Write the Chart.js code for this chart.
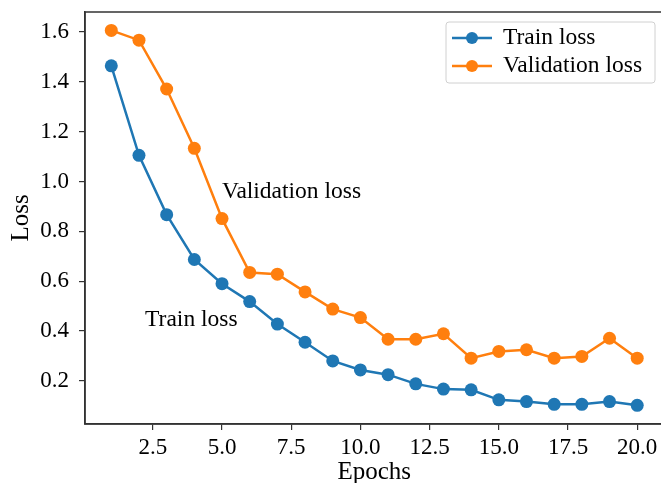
<!DOCTYPE html>
<html>
<head>
<meta charset="utf-8">
<script src="https://cdn.jsdelivr.net/npm/chart.js@4.4.1/dist/chart.umd.min.js"></script>
<style>
  html, body { margin: 0; padding: 0; background: #fff; overflow: hidden; }
  #wrap { width: 670px; height: 483px; }
</style>
</head>
<body>
<div id="wrap"><canvas id="lossChart"></canvas></div>
<script>
// Dados
const epochs = [1, 2, 3, 4, 5, 6, 7, 8, 9, 10, 11, 12, 13, 14, 15, 16, 17, 18, 19, 20];
const trainLoss = [1.464, 1.105, 0.867, 0.687, 0.590, 0.518, 0.428, 0.355, 0.280, 0.244,
                   0.225, 0.188, 0.167, 0.164, 0.124, 0.117, 0.106, 0.106, 0.117, 0.102];
const valLoss = [1.606, 1.567, 1.371, 1.133, 0.851, 0.635, 0.628, 0.557, 0.488, 0.454,
                 0.367, 0.367, 0.389, 0.291, 0.318, 0.325, 0.291, 0.298, 0.371, 0.291];
const xTicks = [2.5, 5.0, 7.5, 10.0, 12.5, 15.0, 17.5, 20.0];
const yTicks = [0.2, 0.4, 0.6, 0.8, 1.0, 1.2, 1.4, 1.6];

const FONT = "'Liberation Serif', 'Times New Roman', serif";
const BLUE = "#1f77b4";
const ORANGE = "#ff7f0e";

const toPoints = (ys) => epochs.map((x, i) => ({ x: x, y: ys[i] }));

// Moldura + legenda + anotações
const extras = {
  id: "extras",
  afterDraw(chart) {
    const ctx = chart.ctx;
    const a = chart.chartArea;
    const xs = chart.scales.x, ys = chart.scales.y;
    ctx.save();
    ctx.strokeStyle = "#333";
    ctx.lineWidth = 1.5;
    ctx.strokeRect(a.left, a.top, a.right - a.left, a.bottom - a.top);

    // anotações
    ctx.fillStyle = "#000";
    ctx.font = "23.5px " + FONT;
    ctx.textBaseline = "middle";
    ctx.textAlign = "left";
    ctx.fillText("Validation loss", xs.getPixelForValue(5.0), ys.getPixelForValue(0.96));
    ctx.fillText("Train loss", xs.getPixelForValue(2.22), ys.getPixelForValue(0.445));

    // legenda
    const bx = 446, by = 22, bw = 209, bh = 61;
    ctx.beginPath();
    ctx.roundRect(bx, by, bw, bh, 3);
    ctx.fillStyle = "rgba(255,255,255,0.8)";
    ctx.fill();
    ctx.strokeStyle = "#d0d0d0";
    ctx.lineWidth = 1;
    ctx.stroke();
    chart.data.datasets.forEach((ds, i) => {
      const yy = 38 + i * 28;
      ctx.strokeStyle = ds.borderColor;
      ctx.lineWidth = 2.5;
      ctx.beginPath();
      ctx.moveTo(452, yy);
      ctx.lineTo(492, yy);
      ctx.stroke();
      ctx.fillStyle = ds.borderColor;
      ctx.beginPath();
      ctx.arc(472, yy, 6, 0, Math.PI * 2);
      ctx.fill();
      ctx.fillStyle = "#000";
      ctx.font = "23.5px " + FONT;
      ctx.fillText(ds.label, 503, yy);
    });
    ctx.restore();
  },
};

const chartConfig = {
  type: "line",
  data: {
    datasets: [
      { label: "Train loss", data: toPoints(trainLoss), borderColor: BLUE, backgroundColor: BLUE },
      { label: "Validation loss", data: toPoints(valLoss), borderColor: ORANGE, backgroundColor: ORANGE },
    ],
  },
  options: {
    responsive: true,
    maintainAspectRatio: false,
    animation: false,
    layout: { padding: { top: 12, right: 5, left: 0, bottom: 0 } },
    elements: {
      line: { borderWidth: 2.5, tension: 0 },
      point: { radius: 6.5, borderWidth: 0, hoverRadius: 6.5 },
    },
    plugins: {
      legend: { display: false },
      tooltip: { enabled: false },
    },
    scales: {
      x: {
        type: "linear",
        min: 0.05,
        max: 20.95,
        afterBuildTicks: (s) => { s.ticks = xTicks.map((v) => ({ value: v })); },
        afterFit: (s) => { s.height = 59; s.paddingLeft = 0; s.paddingRight = 0; },
        ticks: {
          color: "#000",
          font: { family: FONT, size: 23 },
          padding: 4,
          callback: (v) => Number(v).toFixed(1),
        },
        grid: { drawOnChartArea: false, drawTicks: true, tickLength: 6, color: "#333", lineWidth: 1.2 },
        border: { color: "#333", width: 1.5 },
        title: { display: true, text: "Epochs", color: "#000", font: { family: FONT, size: 25 }, padding: { top: 2, bottom: -4 } },
      },
      y: {
        type: "linear",
        min: 0.027,
        max: 1.68,
        afterBuildTicks: (s) => { s.ticks = yTicks.map((v) => ({ value: v })); },
        afterFit: (s) => { s.width = 85; s.paddingTop = 0; s.paddingBottom = 0; },
        ticks: {
          color: "#000",
          font: { family: FONT, size: 23 },
          padding: 10,
          callback: (v) => Number(v).toFixed(1),
        },
        grid: { drawOnChartArea: false, drawTicks: true, tickLength: 6, color: "#333", lineWidth: 1.2 },
        border: { color: "#333", width: 1.5 },
        title: { display: true, text: "Loss", color: "#000", font: { family: FONT, size: 25 }, padding: { top: 6, bottom: 0 } },
      },
    },
  },
  plugins: [extras],
};

const el = document.getElementById("lossChart");
if (el) {
  new Chart(el, chartConfig);
}
</script>
</body>
</html>
